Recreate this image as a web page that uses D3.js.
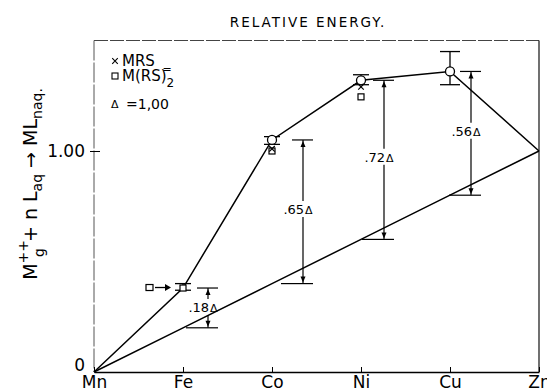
<!DOCTYPE html>
<html>
<head>
<meta charset="utf-8">
<script src="https://cdn.jsdelivr.net/npm/d3@7/dist/d3.min.js"></script>
<style>
  html, body { margin: 0; padding: 0; background: #fff; }
  svg { display: block; font-family: "DejaVu Sans", sans-serif; }
</style>
</head>
<body>
<svg id="chart" width="547" height="391"></svg>
<script>
// Metals across the first transition series
const metals = ["Mn", "Fe", "Co", "Ni", "Cu", "Zn"];
// Relative hydration energy (upper curve, in Δ units)
const relEnergy = [0, 0.38, 1.05, 1.32, 1.36, 1.00];
// Straight reference line Mn → Zn
const baseline = [0, 0.20, 0.40, 0.60, 0.80, 1.00];
// Error bar limits at the measured points
const errLow  = [null, 0.37, 1.03, 1.30, 1.30, null];
const errHigh = [null, 0.40, 1.065, 1.345, 1.45, null];
// Individual estimates: MRS (×) and M(RS)2= (□)
const mrsPts = [{m: "Co", v: 1.01}, {m: "Ni", v: 1.29}];
const mrs2Pts = [{m: "Fe", v: 0.38}, {m: "Co", v: 1.00}, {m: "Ni", v: 1.245}];
// Stabilisation differences, labelled in Δ
const diffMetals = ["Fe", "Co", "Ni", "Cu"];
const diffLabels = [".18", ".65", ".72", ".56"];
const yTicks = [0, 1];
const yTickLabels = ["0", "1.00"];

const svg = d3.select("#chart");
const x = d3.scalePoint().domain(metals).range([94, 539]);
const y = d3.scaleLinear().domain([0, 1.5]).range([372, 40.5]);
const idx = m => metals.indexOf(m);

// frame
const fr = svg.append("g");
fr.append("line").attr("x1", 94).attr("x2", 539).attr("y1", y(1.5)).attr("y2", y(1.5))
  .attr("stroke", "#444").attr("stroke-width", 1).attr("stroke-dasharray", "14 2");
fr.append("line").attr("x1", 539).attr("x2", 539).attr("y1", y(1.5)).attr("y2", y(0))
  .attr("stroke", "#111").attr("stroke-width", 1.2);
fr.append("line").attr("x1", 94).attr("x2", 94).attr("y1", y(1.5)).attr("y2", y(0))
  .attr("stroke", "#555").attr("stroke-width", 1).attr("stroke-dasharray", "20 2");

// x axis
const xAxis = svg.append("g").attr("transform", `translate(0,${y(0)})`)
  .call(d3.axisBottom(x).tickSizeInner(-5).tickSizeOuter(0).tickPadding(4));
xAxis.select(".domain").attr("stroke", "#000").attr("stroke-width", 1.4);
xAxis.selectAll(".tick line").attr("stroke", "#000");
xAxis.selectAll(".tick text").attr("font-size", 17).attr("fill", "#000")
  .attr("font-family", "DejaVu Sans, sans-serif");

// y axis
const yAxis = svg.append("g").attr("transform", "translate(94,0)")
  .call(d3.axisLeft(y).tickValues(yTicks).tickFormat((d, i) => yTickLabels[i])
    .tickSizeInner(4).tickSizeOuter(0).tickPadding(5));
yAxis.select(".domain").remove();
yAxis.selectAll(".tick line").attr("x2", d => d === 0 ? 0 : 6).attr("x1", d => d === 0 ? 0 : -4)
  .attr("stroke", "#000");
yAxis.selectAll(".tick text").attr("font-size", 17).attr("fill", "#000")
  .attr("font-family", "DejaVu Sans, sans-serif");
yAxis.selectAll(".tick").filter(d => d === 0).select("text").attr("dy", "-0.1em");

// reference line and energy curve
const line = d3.line().x((d, i) => x(metals[i])).y(d => y(d));
svg.append("path").attr("d", line(baseline)).attr("fill", "none")
  .attr("stroke", "#000").attr("stroke-width", 1.5);
svg.append("path").attr("d", line(relEnergy)).attr("fill", "none")
  .attr("stroke", "#000").attr("stroke-width", 1.5);

// error bars
const eb = svg.append("g").attr("stroke", "#000").attr("stroke-width", 1.3);
metals.forEach((m, i) => {
  if (errLow[i] == null) return;
  const cx = x(m), hw = m === "Cu" ? 10 : 8;
  eb.append("line").attr("x1", cx).attr("x2", cx).attr("y1", y(errLow[i])).attr("y2", y(errHigh[i]));
  [errLow[i], errHigh[i]].forEach(v =>
    eb.append("line").attr("x1", cx - hw).attr("x2", cx + hw).attr("y1", y(v)).attr("y2", y(v)));
});

// M(RS)2= squares
svg.append("g").selectAll("rect").data(mrs2Pts).join("rect")
  .attr("x", d => x(d.m) - 3).attr("y", d => y(d.v) - 3).attr("width", 6).attr("height", 6)
  .attr("fill", "#fff").attr("stroke", "#000").attr("stroke-width", 1.2);
// MRS crosses
svg.append("g").selectAll("path").data(mrsPts).join("path")
  .attr("d", d3.symbol(d3.symbolX, 22))
  .attr("transform", d => `translate(${x(d.m)},${y(d.v)})`)
  .attr("fill", "none").attr("stroke", "#000").attr("stroke-width", 1.2);

// open circles on the curve
const circ = ["Co", "Ni", "Cu"];
svg.append("g").selectAll("circle").data(circ).join("circle")
  .attr("cx", d => x(d)).attr("cy", d => y(relEnergy[idx(d)])).attr("r", 4.5)
  .attr("fill", "#fff").attr("stroke", "#000").attr("stroke-width", 1.3);

// pointer to the Fe square
{
  const fx = x("Fe"), fy = y(relEnergy[idx("Fe")]);
  svg.append("rect").attr("x", fx - 37).attr("y", fy - 3.5).attr("width", 7).attr("height", 6)
    .attr("fill", "#fff").attr("stroke", "#000").attr("stroke-width", 1.2);
  svg.append("line").attr("x1", fx - 28).attr("x2", fx - 16).attr("y1", fy - 0.5).attr("y2", fy - 0.5)
    .attr("stroke", "#000").attr("stroke-width", 1.3);
  svg.append("path").attr("d", `M${fx - 12},${fy - 0.5}L${fx - 18},${fy - 4}L${fx - 18},${fy + 3}Z`)
    .attr("fill", "#000");
}

// dimension markers for the differences
const dimShift = [25, 31, 23, 21];
const dg = svg.append("g");
diffMetals.forEach((m, k) => {
  const i = idx(m);
  const lx = x(m) + dimShift[k];
  const yt = y(relEnergy[i]), yb = y(baseline[i]);
  const ly = yt + (yb - yt) * 0.48;
  const t = dg.append("text").attr("x", lx - 5).attr("y", ly + 5).attr("text-anchor", "middle")
    .attr("font-size", 13).attr("fill", "#000");
  t.append("tspan").text(diffLabels[k]);
  t.append("tspan").attr("font-size", 11).attr("dx", 1).text("Δ");
  const s = dg.append("g").attr("stroke", "#000").attr("stroke-width", 1.2);
  s.append("line").attr("x1", lx).attr("x2", lx).attr("y1", yt).attr("y2", ly - 8);
  s.append("line").attr("x1", lx).attr("x2", lx).attr("y1", ly + 8).attr("y2", yb);
  s.append("line").attr("x1", lx - 11).attr("x2", lx + 10).attr("y1", yt).attr("y2", yt);
  s.append("line").attr("x1", lx - 22).attr("x2", lx + 10).attr("y1", yb).attr("y2", yb);
  dg.append("path").attr("d", `M${lx},${yt + 1}L${lx - 2.5},${yt + 7}L${lx + 2.5},${yt + 7}Z`).attr("fill", "#000");
  dg.append("path").attr("d", `M${lx},${yb - 1}L${lx - 2.5},${yb - 7}L${lx + 2.5},${yb - 7}Z`).attr("fill", "#000");
});

// legend
const lg = svg.append("g").attr("fill", "#000");
lg.append("path").attr("d", d3.symbol(d3.symbolX, 22)).attr("transform", "translate(115,61)")
  .attr("fill", "none").attr("stroke", "#000").attr("stroke-width", 1.1);
lg.append("text").attr("x", 122).attr("y", 66).attr("font-size", 15).text("MRS");
lg.append("rect").attr("x", 112).attr("y", 73).attr("width", 6).attr("height", 6)
  .attr("fill", "#fff").attr("stroke", "#000").attr("stroke-width", 1.1);
const l2 = lg.append("text").attr("x", 122).attr("y", 81).attr("font-size", 15);
l2.append("tspan").text("M(RS)");
l2.append("tspan").attr("font-size", 12).attr("dy", 6).text("2");
lg.append("text").attr("x", 167).attr("y", 73).attr("font-size", 11).attr("text-anchor", "middle").text("=");
lg.append("text").attr("x", 111).attr("y", 108).attr("font-size", 11).text("Δ");
lg.append("text").attr("x", 126).attr("y", 109).attr("font-size", 14).text("=1,00");

// title
svg.append("text").attr("x", 308).attr("y", 27).attr("text-anchor", "middle")
  .attr("font-size", 13.5).attr("letter-spacing", 2).attr("fill", "#000").text("RELATIVE ENERGY.");

// y axis label
const yl = svg.append("text").attr("transform", "translate(37,184) rotate(-90)")
  .attr("text-anchor", "middle").attr("font-size", 19).attr("fill", "#000");
yl.append("tspan").text("M");
yl.append("tspan").attr("font-size", 14).attr("dy", -9).text("++");
yl.append("tspan").attr("font-size", 14).attr("dx", -17).attr("dy", 16).text("g");
yl.append("tspan").attr("dy", -7).text(" + n L");
yl.append("tspan").attr("font-size", 14).attr("dy", 5).text("aq");
yl.append("tspan").attr("dy", -5).text(" → ML");
yl.append("tspan").attr("font-size", 14).attr("dy", 5).text("naq");
yl.append("tspan").attr("font-size", 14).text(".");
</script>
</body>
</html>
